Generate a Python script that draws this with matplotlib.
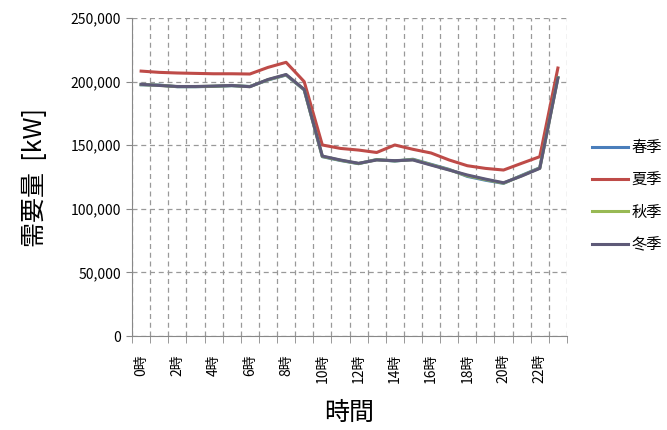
import numpy as np
import matplotlib
matplotlib.use('Agg')
import matplotlib.pyplot as plt
from matplotlib.ticker import FuncFormatter, FixedLocator

plt.rcParams['font.family'] = ['Noto Sans CJK JP', 'DejaVu Sans']

# データ (時間帯別の需要量 kW)
hours = [f'{h}時' for h in range(24)]
summer = [208300, 207300, 206800, 206500, 206200, 206200, 206000, 211200,
          215200, 200000, 150200, 147500, 146200, 144300, 150200, 146800,
          143900, 138400, 133900, 131800, 130500, 135800, 141000, 210700]
winter = [197900, 197000, 196200, 196200, 196500, 197000, 196000, 201700,
          205600, 193900, 141500, 138400, 135800, 138400, 137900, 138400,
          134400, 130500, 126600, 123400, 120500, 125800, 131800, 202800]
spring = [197500, 197300, 196000, 196000, 196300, 196800, 196200, 201300,
          205200, 193500, 141000, 138000, 135500, 138800, 137500, 139000,
          135000, 131000, 125500, 122500, 120000, 126300, 132300, 203300]
autumn = [197700, 197100, 196100, 196100, 196400, 196900, 196100, 201500,
          205400, 193700, 141200, 138200, 135600, 138600, 137700, 138700,
          134700, 130700, 126000, 123000, 120200, 126000, 132000, 203000]

series = [('春季', spring, '#4a7ebb'),
          ('夏季', summer, '#be4b48'),
          ('秋季', autumn, '#98b954'),
          ('冬季', winter, '#5e5a78')]

fig = plt.figure(figsize=(6.67, 4.3), dpi=100)
ax = fig.add_axes([0.198, 0.2186, 0.652, 0.7394])

x = np.arange(len(hours))
for name, vals, col in series:
    ax.plot(x, vals, color=col, lw=2.2, label=name)

ax.set_xlim(-0.5, len(hours) - 0.5)
ax.set_ylim(0, 250000)
ax.set_yticks(np.arange(0, 250001, 50000))
ax.yaxis.set_major_formatter(FuncFormatter(lambda v, p: f'{int(v):,}'))

# x軸: 区切り線に目盛り、ラベルは2時間おき
ax.xaxis.set_major_locator(FixedLocator(x[::2]))
ax.set_xticklabels(hours[::2], rotation=90, fontsize=10)
ax.xaxis.set_minor_locator(FixedLocator(np.arange(-0.5, len(hours), 1)))
ax.tick_params(axis='x', which='major', length=0, pad=13)
ax.tick_params(axis='x', which='minor', length=5, color='#888888')
ax.tick_params(axis='y', length=4, color='#888888', labelsize=10, pad=4)

ax.grid(True, axis='y', which='major', ls=(0, (4, 3)), color='#999999', lw=0.9)
ax.grid(True, axis='x', which='minor', ls=(0, (4, 3)), color='#999999', lw=0.9)
ax.grid(False, axis='x', which='major')

for s in ['top', 'right']:
    ax.spines[s].set_visible(False)
for s in ['left', 'bottom']:
    ax.spines[s].set_color('#888888')

ax.set_ylabel('需要量  [kW]', fontsize=18, labelpad=16)
ax.set_xlabel('時間', fontsize=18, labelpad=12)

ax.legend(loc='center left', bbox_to_anchor=(1.025, 0.44), frameon=False,
          fontsize=11, handlelength=2.4, labelspacing=1.0, handletextpad=0.2)

fig.savefig('out.png', dpi=100)
